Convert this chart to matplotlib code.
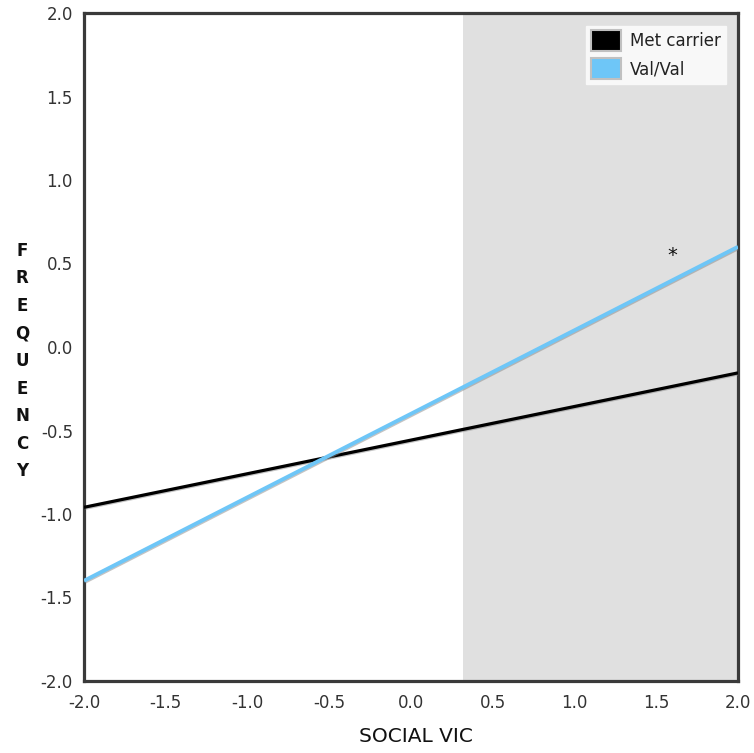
import matplotlib
matplotlib.use("Agg")
import matplotlib.pyplot as plt
import matplotlib.patheffects as pe
from matplotlib.patches import Patch

x_vals = [-2.0, 2.0]
met_carrier = [-0.96, -0.155]
val_val = [-1.40, 0.60]
shade_start = 0.32
star_pos = (1.60, 0.545)
ticks = [-2.0, -1.5, -1.0, -0.5, 0.0, 0.5, 1.0, 1.5, 2.0]
tick_labels = ["-2.0", "-1.5", "-1.0", "-0.5", "0.0", "0.5", "1.0", "1.5", "2.0"]

fig = plt.figure(figsize=(7.54, 7.53), dpi=100)
ax = fig.add_axes([84/754, 1-681/753, (738-84)/754, (681-13)/753])

ax.axvspan(shade_start, 2.0, color="#e0e0e0", zorder=0, lw=0)

shadow = [pe.SimpleLineShadow(offset=(0.7, -0.7), shadow_color="#888888", alpha=0.5), pe.Normal()]
ax.plot(x_vals, met_carrier, color="black", lw=2.3, solid_capstyle="butt", path_effects=shadow, zorder=3)
ax.plot(x_vals, val_val, color="#6ec6f7", lw=2.8, solid_capstyle="butt", path_effects=shadow, zorder=3)

ax.text(star_pos[0], star_pos[1], "*", fontsize=14, ha="center", va="center", color="#111111")

ax.set_xlim(-2, 2)
ax.set_ylim(-2, 2)
ax.set_xticks(ticks)
ax.set_xticklabels(tick_labels)
ax.set_yticks(ticks)
ax.set_yticklabels(tick_labels)
ax.tick_params(length=0, labelsize=12, colors="#333333")
ax.tick_params(axis="x", pad=9)
ax.tick_params(axis="y", pad=8)
for s in ax.spines.values():
    s.set_color("#3a3a3a")
    s.set_linewidth(2.3)

fig.text(416/754, 1-737/753, "SOCIAL VIC", fontsize=14.5, ha="center", va="center", color="#111111")
fig.text(22/754, 1-361/753, "F\nR\nE\nQ\nU\nE\nN\nC\nY", fontsize=12, ha="center", va="center",
         linespacing=1.68, color="#111111", fontweight="semibold")

handles = [Patch(facecolor="black", edgecolor="#c0c0c0", lw=1.5, label="Met carrier"),
           Patch(facecolor="#6ec6f7", edgecolor="#c0c0c0", lw=1.5, label="Val/Val")]
leg = ax.legend(handles=handles, loc="upper right", fontsize=12,
                frameon=True, fancybox=False, handlelength=1.8, handleheight=1.5, handletextpad=0.5,
                borderpad=0.3, labelspacing=0.45, borderaxespad=0.75)
leg.get_frame().set_facecolor("#f8f8f8")
leg.get_frame().set_edgecolor("#f8f8f8")
leg.get_frame().set_alpha(1)
for t in leg.get_texts():
    t.set_color("#222222")

fig.savefig("out.png", dpi=100)
